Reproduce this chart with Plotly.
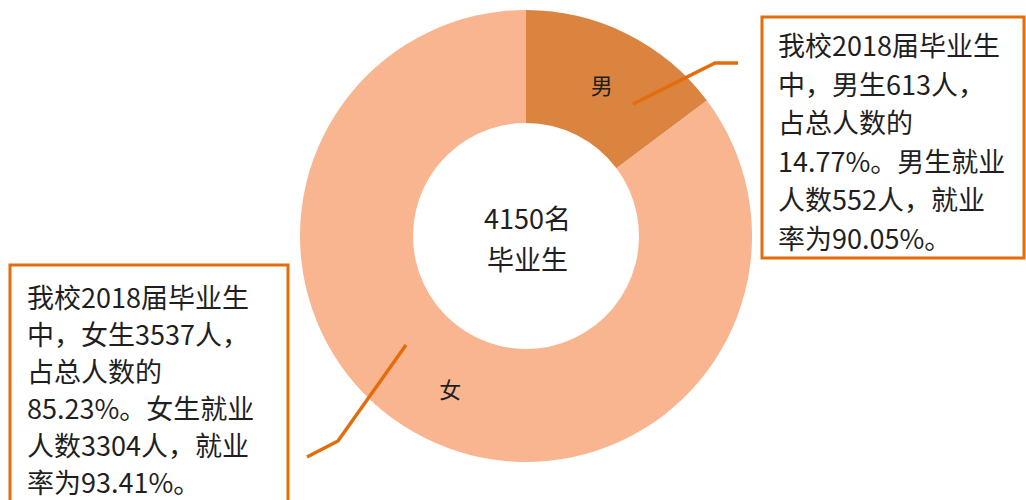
import plotly.graph_objects as go

W, H = 1026, 500

labels = ["男", "女"]
counts = [613, 3537]
colors = ["#DA843F", "#F8B590"]
center_text = ["4150名", "毕业生"]

male_note = [
    "我校2018届毕业生",
    "中，男生613人，",
    "占总人数的",
    "14.77%。男生就业",
    "人数552人，就业",
    "率为90.05%。",
]
female_note = [
    "我校2018届毕业生",
    "中，女生3537人，",
    "占总人数的",
    "85.23%。女生就业",
    "人数3304人，就业",
    "率为93.41%。",
]

ORANGE = "#E46C0A"
TEXT = "#1F1F1F"
FONT = "Noto Sans CJK SC"


def px_x(x):
    return x / W


def px_y(y):
    return 1 - y / H


fig = go.Figure(
    go.Pie(
        labels=labels,
        values=counts,
        hole=0.5,
        sort=False,
        direction="clockwise",
        rotation=0,
        marker=dict(colors=colors, line=dict(width=0)),
        textinfo="label",
        textposition="inside",
        insidetextorientation="horizontal",
        textfont=dict(size=22, color=TEXT, family=FONT),
        domain=dict(x=[px_x(300), px_x(752)], y=[px_y(462), px_y(10)]),
        showlegend=False,
        hoverinfo="label+value+percent",
    )
)


def text_lines(lines, x0, y_first, step, size, anchor="left"):
    out = []
    for i, line in enumerate(lines):
        out.append(dict(
            x=px_x(x0), y=px_y(y_first + i * step), xref="paper", yref="paper",
            text=line, showarrow=False, xanchor=anchor, yanchor="middle",
            font=dict(size=size, color=TEXT, family=FONT), align=anchor,
        ))
    return out


annotations = text_lines(center_text, 527, 218, 40, 27, anchor="center")
annotations += text_lines(male_note, 776, 45, 38.4, 27)
annotations += text_lines(female_note, 25, 296, 37, 27)

shapes = [
    # callout boxes
    dict(type="rect", xref="paper", yref="paper",
         x0=px_x(762), y0=px_y(258), x1=px_x(1024), y1=px_y(17),
         line=dict(color=ORANGE, width=3), fillcolor="rgba(0,0,0,0)"),
    dict(type="rect", xref="paper", yref="paper",
         x0=px_x(10), y0=px_y(520), x1=px_x(288), y1=px_y(265),
         line=dict(color=ORANGE, width=3), fillcolor="rgba(0,0,0,0)"),
    # leader lines
    dict(type="path", xref="paper", yref="paper",
         path=f"M {px_x(633)},{px_y(104)} L {px_x(715)},{px_y(63)} L {px_x(738)},{px_y(63)}",
         line=dict(color=ORANGE, width=3.5)),
    dict(type="path", xref="paper", yref="paper",
         path=f"M {px_x(406)},{px_y(345)} L {px_x(338)},{px_y(441)} L {px_x(307)},{px_y(457)}",
         line=dict(color=ORANGE, width=3.5)),
]

fig.update_layout(
    width=W,
    height=H,
    margin=dict(l=0, r=0, t=0, b=0),
    paper_bgcolor="white",
    plot_bgcolor="white",
    font=dict(family=FONT, color=TEXT),
    annotations=annotations,
    shapes=shapes,
)

fig.write_html(
    "out.html",
    config={"displayModeBar": False},
    post_script="document.body.style.margin='0';document.body.style.overflow='hidden';",
)
